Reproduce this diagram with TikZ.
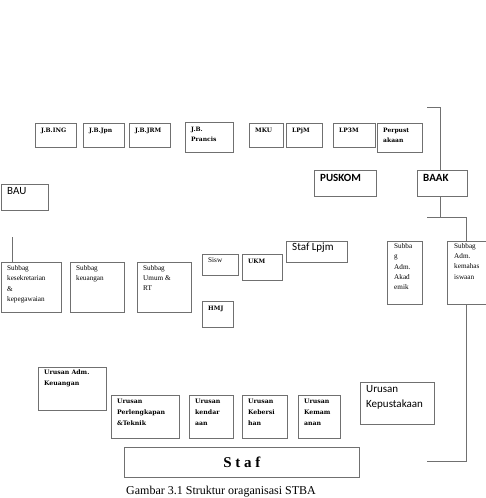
\documentclass[tikz,border=0pt]{standalone}
\usepackage{fontspec}
\setmainfont{Liberation Serif}
\newfontfamily\bser{DejaVu Serif}
\newfontfamily\csans{Carlito}
\definecolor{linegray}{HTML}{707070}
\tikzset{
  box/.style={draw=linegray, line width=0.7pt, anchor=north west, inner sep=0pt},
  lbl/.style={anchor=north west, align=left, inner xsep=6pt, inner ysep=5pt, text=black},
  tb/.style={font=\bser\bfseries\fontsize{6}{10}\selectfont},
  ub/.style={font=\bser\bfseries\fontsize{6.2}{10.8}\selectfont},
  sr/.style={font=\fontsize{7.2}{10.4}\selectfont},
  ss/.style={font=\csans\fontsize{11}{15}\selectfont},
  ssb/.style={font=\csans\bfseries\fontsize{11}{15}\selectfont},
  conn/.style={draw=linegray, line width=0.7pt}
}
\newcommand{\bx}[7]{%
  \node[box, minimum width=#4pt, minimum height=#5pt] (#1) at (#2,#3) {};
  \node[lbl, #6] (#1t) at (#1.north west) {#7};
}
\begin{document}
\begin{tikzpicture}[x=1pt,y=-1pt]
\useasboundingbox (0,0) rectangle (486,498);
% top row
\bx{jbing}{35}{123}{41}{24}{tb}{J.B.ING}
\bx{jbjpn}{83}{123}{41}{24}{tb}{J.B.Jpn}
\bx{jbjrm}{129}{123}{41}{24}{tb}{J.B.JRM}
\bx{jbpr}{185}{122}{48}{30}{tb}{J.B.\\Prancis}
\bx{mku}{249}{123}{34}{24}{tb}{MKU}
\bx{lpjm}{286}{123}{36}{24}{tb}{LPjM}
\bx{lp3m}{333}{123}{42}{24}{tb}{LP3M}
\bx{perp}{377}{123}{45}{29}{tb}{Perpust\\akaan}
% second row
\bx{puskom}{314}{170}{62}{26}{ssb, inner ysep=4pt}{PUSKOM}
\bx{baak}{417}{170}{50}{26}{ssb, inner ysep=4pt}{BAAK}
\bx{bau}{1}{184}{47}{26}{ss, inner ysep=3pt}{BAU}
% third row
\bx{kes}{1}{262}{60}{50}{sr, inner ysep=3pt}{Subbag\\kesekretarian\\\&\\kepegawaian}
\bx{keu}{70}{262}{54}{50}{sr, inner ysep=3pt}{Subbag\\keuangan}
\bx{umum}{137}{262}{54}{50}{sr, inner ysep=3pt}{Subbag\\Umum \&\\RT}
\bx{sisw}{202}{254}{36}{21}{sr, inner ysep=4pt}{Sisw}
\bx{ukm}{242}{254}{40}{26}{tb, inner ysep=5pt}{UKM}
\bx{hmj}{202}{301}{31}{26}{tb, inner ysep=5pt}{HMJ}
\bx{staflpjm}{286}{241}{61}{21}{ss, inner ysep=2pt}{Staf Lpjm}
\bx{akad}{387}{241}{35}{63}{sr, inner xsep=7pt, inner ysep=2pt}{Subba\\g\\Adm.\\Akad\\emik}
\bx{kem}{447}{241}{38.6}{63}{sr, inner xsep=7pt, inner ysep=2pt}{Subbag\\Adm.\\kemahas\\iswaan}
% urusan
\bx{uadm}{38}{367}{68}{43}{ub, inner ysep=3pt}{Urusan Adm.\\Keuangan}
\bx{uperl}{111}{395}{68}{43}{ub, inner ysep=4pt}{Urusan\\Perlengkapan\\\&Teknik}
\bx{ukend}{189}{395}{44}{43}{ub, inner ysep=4pt}{Urusan\\kendar\\aan}
\bx{ukeb}{242}{395}{45}{43}{ub, inner ysep=4pt}{Urusan\\Kebersi\\han}
\bx{ukem}{298}{395}{42}{43}{ub, inner ysep=4pt}{Urusan\\Kemam\\anan}
\bx{ukep}{360}{382}{74}{42}{ss, inner ysep=3pt}{Urusan\\Kepustakaan}
% staf
\node[box, minimum width=235pt, minimum height=30pt] (staf) at (124,447) {};
\node[font=\bfseries\fontsize{15}{18}\selectfont] (staft) at (staf.center) {S t a f};
% caption
\node[anchor=base west, inner sep=0pt, font=\fontsize{12}{14}\selectfont] (cap) at (126,494) {Gambar 3.1 Struktur oraganisasi STBA};
% connectors
\coordinate (ttop) at (427,107);
\coordinate (jn) at (427,217);
\coordinate (bl) at (427,461);
\coordinate (bautop) at (12,237);
\coordinate (stem) at (440,0);
\draw[conn] (ttop) -- (ttop -| stem) -- (stem |- baak.north);
\draw[conn] (stem |- baak.south) -- (stem |- jn);
\draw[conn] (jn) -- (jn -| kem.north) -- (kem.north);
\draw[conn] (kem.south) |- (bl);
\draw[conn] (bautop) -- (bautop |- kes.north);
\end{tikzpicture}
\end{document}
